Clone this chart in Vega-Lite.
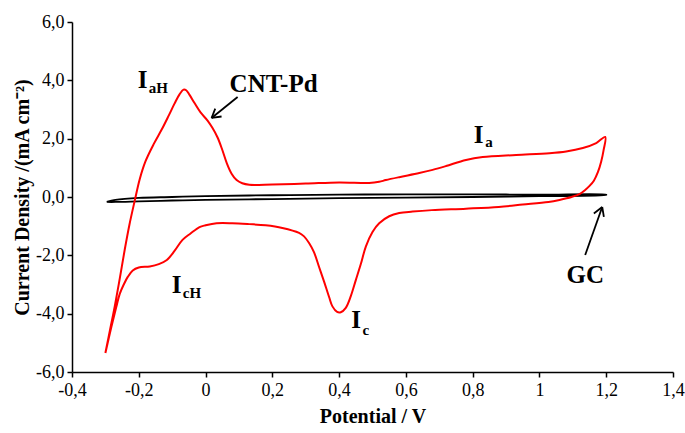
{
  "$schema": "https://vega.github.io/schema/vega-lite/v6.json",
  "autosize": "none",
  "width": 601,
  "height": 350,
  "padding": {"left": 72, "top": 22, "right": 12, "bottom": 61},
  "background": "white",
  "config": {
    "view": {"stroke": null},
    "locale": {"number": {"decimal": ",", "thousands": ".", "grouping": [3], "currency": ["", ""], "minus": "-"}},
    "axis": {
      "grid": false,
      "domainColor": "#000",
      "domainWidth": 1.5,
      "tickColor": "#000",
      "tickWidth": 1.5,
      "tickSize": 5,
      "labelFont": "Liberation Serif",
      "labelFontSize": 18,
      "labelColor": "#000",
      "titleFont": "Liberation Serif",
      "titleFontSize": 20,
      "titleFontWeight": "bold",
      "titleColor": "#000"
    }
  },
  "datasets": {
    "cntpd": [
      {"o": 1, "v": -0.300, "i": -5.35},
      {"o": 2, "v": -0.286, "i": -4.55},
      {"o": 3, "v": -0.272, "i": -3.75},
      {"o": 4, "v": -0.257, "i": -2.80},
      {"o": 5, "v": -0.242, "i": -1.80},
      {"o": 6, "v": -0.228, "i": -0.95},
      {"o": 7, "v": -0.212, "i": -0.12},
      {"o": 8, "v": -0.197, "i": 0.62},
      {"o": 9, "v": -0.180, "i": 1.22},
      {"o": 10, "v": -0.155, "i": 1.82},
      {"o": 11, "v": -0.131, "i": 2.32},
      {"o": 12, "v": -0.110, "i": 2.80},
      {"o": 13, "v": -0.093, "i": 3.20},
      {"o": 14, "v": -0.078, "i": 3.52},
      {"o": 15, "v": -0.066, "i": 3.68},
      {"o": 16, "v": -0.058, "i": 3.66},
      {"o": 17, "v": -0.048, "i": 3.50},
      {"o": 18, "v": -0.033, "i": 3.22},
      {"o": 19, "v": -0.015, "i": 2.90},
      {"o": 20, "v": 0.006, "i": 2.62},
      {"o": 21, "v": 0.020, "i": 2.38},
      {"o": 22, "v": 0.036, "i": 2.04},
      {"o": 23, "v": 0.050, "i": 1.62},
      {"o": 24, "v": 0.063, "i": 1.18},
      {"o": 25, "v": 0.078, "i": 0.80},
      {"o": 26, "v": 0.093, "i": 0.58},
      {"o": 27, "v": 0.110, "i": 0.47},
      {"o": 28, "v": 0.131, "i": 0.42},
      {"o": 29, "v": 0.200, "i": 0.43},
      {"o": 30, "v": 0.300, "i": 0.46},
      {"o": 31, "v": 0.400, "i": 0.50},
      {"o": 32, "v": 0.490, "i": 0.48},
      {"o": 33, "v": 0.520, "i": 0.52},
      {"o": 34, "v": 0.540, "i": 0.58},
      {"o": 35, "v": 0.580, "i": 0.68},
      {"o": 36, "v": 0.640, "i": 0.82},
      {"o": 37, "v": 0.680, "i": 0.93},
      {"o": 38, "v": 0.720, "i": 1.06},
      {"o": 39, "v": 0.780, "i": 1.27},
      {"o": 40, "v": 0.830, "i": 1.37},
      {"o": 41, "v": 0.930, "i": 1.44},
      {"o": 42, "v": 1.030, "i": 1.50},
      {"o": 43, "v": 1.080, "i": 1.56},
      {"o": 44, "v": 1.130, "i": 1.68},
      {"o": 45, "v": 1.170, "i": 1.85},
      {"o": 46, "v": 1.197, "i": 2.06},
      {"o": 47, "v": 1.192, "i": 1.60},
      {"o": 48, "v": 1.185, "i": 1.22},
      {"o": 49, "v": 1.175, "i": 0.85},
      {"o": 50, "v": 1.163, "i": 0.56},
      {"o": 51, "v": 1.150, "i": 0.38},
      {"o": 52, "v": 1.137, "i": 0.24},
      {"o": 53, "v": 1.120, "i": 0.10},
      {"o": 54, "v": 1.096, "i": 0.00},
      {"o": 55, "v": 1.060, "i": -0.10},
      {"o": 56, "v": 1.027, "i": -0.17},
      {"o": 57, "v": 0.950, "i": -0.26},
      {"o": 58, "v": 0.878, "i": -0.34},
      {"o": 59, "v": 0.780, "i": -0.40},
      {"o": 60, "v": 0.678, "i": -0.45},
      {"o": 61, "v": 0.620, "i": -0.50},
      {"o": 62, "v": 0.580, "i": -0.55},
      {"o": 63, "v": 0.550, "i": -0.66},
      {"o": 64, "v": 0.520, "i": -0.90},
      {"o": 65, "v": 0.500, "i": -1.20},
      {"o": 66, "v": 0.480, "i": -1.70},
      {"o": 67, "v": 0.465, "i": -2.30},
      {"o": 68, "v": 0.450, "i": -2.85},
      {"o": 69, "v": 0.435, "i": -3.40},
      {"o": 70, "v": 0.420, "i": -3.80},
      {"o": 71, "v": 0.405, "i": -3.95},
      {"o": 72, "v": 0.394, "i": -3.94},
      {"o": 73, "v": 0.380, "i": -3.75},
      {"o": 74, "v": 0.370, "i": -3.43},
      {"o": 75, "v": 0.355, "i": -2.90},
      {"o": 76, "v": 0.340, "i": -2.40},
      {"o": 77, "v": 0.325, "i": -1.90},
      {"o": 78, "v": 0.310, "i": -1.58},
      {"o": 79, "v": 0.295, "i": -1.35},
      {"o": 80, "v": 0.280, "i": -1.23},
      {"o": 81, "v": 0.230, "i": -1.06},
      {"o": 82, "v": 0.180, "i": -0.97},
      {"o": 83, "v": 0.131, "i": -0.93},
      {"o": 84, "v": 0.080, "i": -0.90},
      {"o": 85, "v": 0.033, "i": -0.90},
      {"o": 86, "v": 0.000, "i": -0.97},
      {"o": 87, "v": -0.018, "i": -1.03},
      {"o": 88, "v": -0.045, "i": -1.25},
      {"o": 89, "v": -0.069, "i": -1.47},
      {"o": 90, "v": -0.093, "i": -1.85},
      {"o": 91, "v": -0.116, "i": -2.16},
      {"o": 92, "v": -0.140, "i": -2.30},
      {"o": 93, "v": -0.167, "i": -2.38},
      {"o": 94, "v": -0.200, "i": -2.42},
      {"o": 95, "v": -0.218, "i": -2.52},
      {"o": 96, "v": -0.233, "i": -2.74},
      {"o": 97, "v": -0.245, "i": -3.00},
      {"o": 98, "v": -0.257, "i": -3.32},
      {"o": 99, "v": -0.268, "i": -3.80},
      {"o": 100, "v": -0.282, "i": -4.45},
      {"o": 101, "v": -0.300, "i": -5.35}
    ],
    "gc": [
      {"o": 1, "v": -0.296, "i": -0.17},
      {"o": 2, "v": -0.270, "i": -0.10},
      {"o": 3, "v": -0.200, "i": -0.03},
      {"o": 4, "v": -0.100, "i": 0.00},
      {"o": 5, "v": 0.000, "i": 0.03},
      {"o": 6, "v": 0.200, "i": 0.06},
      {"o": 7, "v": 0.400, "i": 0.08},
      {"o": 8, "v": 0.600, "i": 0.09},
      {"o": 9, "v": 0.800, "i": 0.09},
      {"o": 10, "v": 1.000, "i": 0.08},
      {"o": 11, "v": 1.200, "i": 0.08},
      {"o": 12, "v": 1.200, "i": 0.07},
      {"o": 13, "v": 1.000, "i": 0.03},
      {"o": 14, "v": 0.800, "i": 0.00},
      {"o": 15, "v": 0.600, "i": -0.02},
      {"o": 16, "v": 0.400, "i": -0.04},
      {"o": 17, "v": 0.200, "i": -0.07},
      {"o": 18, "v": 0.000, "i": -0.10},
      {"o": 19, "v": -0.100, "i": -0.12},
      {"o": 20, "v": -0.200, "i": -0.15},
      {"o": 21, "v": -0.270, "i": -0.17},
      {"o": 22, "v": -0.296, "i": -0.17}
    ],
    "labels": [
      {"kind": "main", "text": "I", "v": -0.203, "i": 3.74},
      {"kind": "sub", "text": "aH", "v": -0.170, "i": 3.57},
      {"kind": "main", "text": "CNT-Pd", "v": 0.072, "i": 3.60},
      {"kind": "main", "text": "I", "v": 0.803, "i": 1.85},
      {"kind": "sub", "text": "a", "v": 0.838, "i": 1.71},
      {"kind": "main", "text": "I", "v": -0.101, "i": -3.29},
      {"kind": "sub", "text": "cH", "v": -0.068, "i": -3.46},
      {"kind": "main", "text": "I", "v": 0.436, "i": -4.49},
      {"kind": "sub", "text": "c", "v": 0.470, "i": -4.73},
      {"kind": "main", "text": "GC", "v": 1.081, "i": -2.95}
    ],
    "arrows": [
      {"v": 0.096, "i": 3.43, "v2": 0.018, "i2": 2.71},
      {"v": 0.048, "i": 2.76, "v2": 0.018, "i2": 2.71},
      {"v": 0.029, "i": 3.03, "v2": 0.018, "i2": 2.71},
      {"v": 1.137, "i": -1.99, "v2": 1.188, "i2": -0.343},
      {"v": 1.163, "i": -0.566, "v2": 1.188, "i2": -0.343},
      {"v": 1.193, "i": -0.679, "v2": 1.188, "i2": -0.343}
    ]
  },
  "encoding": {
    "x": {
      "field": "v",
      "type": "quantitative",
      "scale": {"domain": [-0.4, 1.4], "nice": false, "zero": false},
      "axis": {
        "title": "Potential / V",
        "values": [-0.4, -0.2, 0, 0.2, 0.4, 0.6, 0.8, 1, 1.2, 1.4],
        "format": ".1~f",
        "labelPadding": 4,
        "titlePadding": 7,
        "labelFlush": false
      }
    },
    "y": {
      "field": "i",
      "type": "quantitative",
      "scale": {"domain": [-6, 6], "nice": false, "zero": false},
      "axis": {
        "title": "Current Density /(mA cm⁻²)",
        "values": [-6, -4, -2, 0, 2, 4, 6],
        "format": ".1f",
        "labelPadding": 3,
        "titlePadding": 3,
        "labelFlush": false
      }
    }
  },
  "layer": [
    {
      "data": {"name": "gc"},
      "mark": {"type": "line", "color": "#000", "strokeWidth": 1.8, "interpolate": "catmull-rom"},
      "encoding": {"order": {"field": "o", "type": "quantitative"}}
    },
    {
      "data": {"name": "cntpd"},
      "mark": {"type": "line", "color": "#ff0000", "strokeWidth": 2, "interpolate": "catmull-rom"},
      "encoding": {"order": {"field": "o", "type": "quantitative"}}
    },
    {
      "data": {"name": "arrows"},
      "mark": {"type": "rule", "color": "#000", "strokeWidth": 1.8},
      "encoding": {
        "x2": {"field": "v2"},
        "y2": {"field": "i2"}
      }
    },
    {
      "data": {"name": "labels"},
      "transform": [{"filter": "datum.kind == 'main'"}],
      "mark": {"type": "text", "font": "Liberation Serif", "fontWeight": "bold", "fontSize": 25, "align": "left", "baseline": "alphabetic", "color": "#000"},
      "encoding": {"text": {"field": "text"}}
    },
    {
      "data": {"name": "labels"},
      "transform": [{"filter": "datum.kind == 'sub'"}],
      "mark": {"type": "text", "font": "Liberation Serif", "fontWeight": "bold", "fontSize": 15, "align": "left", "baseline": "alphabetic", "color": "#000"},
      "encoding": {"text": {"field": "text"}}
    }
  ]
}
